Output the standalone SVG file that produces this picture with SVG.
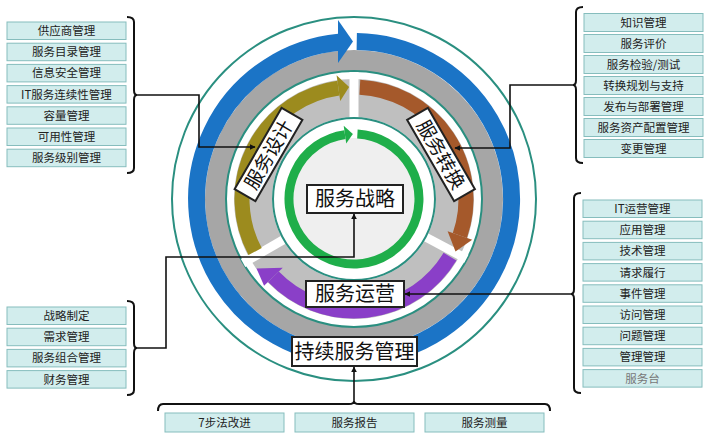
<svg xmlns="http://www.w3.org/2000/svg" width="714" height="441" viewBox="0 0 714 441">
<defs>
<style>
.bx{fill:#d2eded;stroke:#86bdbd;stroke-width:1}
.bt{font-family:"Noto Sans CJK SC","Noto Sans",sans-serif;font-size:11.5px;fill:#222;text-anchor:middle}
.lb{fill:#fff;stroke:#222;stroke-width:2}
.lt{font-family:"Noto Sans CJK SC","Noto Sans",sans-serif;font-size:20px;fill:#111;text-anchor:middle}
.ring{fill:none;stroke:#2a8f80;stroke-width:2}
.br{fill:none;stroke:#111;stroke-width:2}
.cn{fill:none;stroke:#111;stroke-width:1.6;marker-end:url(#ah)}
</style>
<marker id="ah" viewBox="0 0 10 10" refX="9" refY="5" markerWidth="6" markerHeight="6" orient="auto" markerUnits="userSpaceOnUse">
<path d="M0,0 L10,5 L0,10 z" fill="#111"/>
</marker>
</defs>
<rect width="714" height="441" fill="#fff"/>

<g id="wheel">
<circle cx="354" cy="199" r="182" class="ring"/>
<circle cx="354" cy="199" r="138.5" fill="none" stroke="#a6a6a6" stroke-width="21"/>
<path d="M356.75,41.52 A157.5,157.5 0 1 1 338.90,42.23" fill="none" stroke="#1b74c6" stroke-width="17"/>
<polygon points="338,20 353,41.5 338,63" fill="#1b74c6"/>
<circle cx="354" cy="199" r="128" class="ring"/>
<circle cx="354" cy="199" r="101" fill="none" stroke="#bfbfbf" stroke-width="38"/>
<g stroke="#fff" stroke-width="9">
<line x1="354" y1="121" x2="354" y2="72"/>
<line x1="422.9" y1="235.6" x2="466.4" y2="258.7"/>
<line x1="286.45" y1="238" x2="243.1" y2="263"/>
</g>
<path d="M255.11,251.58 A112,112 0 0 1 338.41,88.09" fill="none" stroke="#9c8b1e" stroke-width="15"/>
<polygon points="340.22,100.96 336.60,75.22 349.11,87.11" fill="#9c8b1e"/>
<path d="M359.86,87.15 A112,112 0 0 1 459.90,235.46" fill="none" stroke="#a5592b" stroke-width="15"/>
<polygon points="447.61,231.23 472.19,239.70 455.5,251.5" fill="#a5592b"/>
<path d="M450.00,256.68 A112,112 0 0 1 273.43,276.80" fill="none" stroke="#8a3fc8" stroke-width="15"/>
<polygon points="282.79,267.77 264.08,285.83 256.5,268.5" fill="#8a3fc8"/>
<circle cx="354" cy="199" r="81" class="ring"/>
<circle cx="354" cy="199" r="61" fill="#efefef"/>
<path d="M357.40,134.09 A65,65 0 1 1 344.95,134.63" fill="none" stroke="#1fae4a" stroke-width="9"/>
<polygon points="346.21,143.54 343.70,125.72 352.87,134.01" fill="#1fae4a"/>
</g>

<g id="connectors">
<path class="br" d="M127,17 Q134,17 134,22 L134,90 Q134,95 137,95 Q134,95 134,100 L134,168 Q134,173 127,173"/>
<path class="cn" d="M137,95 L199,95 L199,147 L255,147"/>
<path class="br" d="M583,7 Q576,7 576,12 L576,80 Q576,85 573,85 Q576,85 576,90 L576,158 Q576,163 583,163"/>
<path class="cn" d="M573,85 L510,85 L510,148 L455,148"/>
<path class="br" d="M581,193 Q574,193 574,198 L574,289 Q574,294 571,294 Q574,294 574,299 L574,388 Q574,393 581,393"/>
<path class="cn" d="M571,294 L405,294"/>
<path class="br" d="M127,301 Q134,301 134,306 L134,343 Q134,348 137,348 Q134,348 134,353 L134,390 Q134,395 127,395"/>
<path class="cn" d="M137,348 L166,348 L166,257 L354,257 L354,214"/>
<path class="br" d="M158,411 Q158,404 163,404 L349,404 Q354,404 354,401 Q354,404 359,404 L545,404 Q550,404 550,411"/>
<path class="cn" d="M354,401 L354,367"/>
</g>

<g id="n-strategy"><rect class="lb" x="307" y="185" width="96" height="28"/><text class="lt" x="355" y="206">服务战略</text></g>
<g id="n-operation"><rect class="lb" x="306" y="281" width="98" height="26"/><text class="lt" x="355" y="301">服务运营</text></g>
<g id="n-csi"><rect class="lb" x="292" y="337" width="125" height="29"/><text class="lt" x="354.5" y="359">持续服务管理</text></g>
<g id="n-design" transform="translate(268.5,154.5) rotate(-60)"><rect class="lb" x="-47" y="-12" width="94" height="24"/><text class="lt" x="0" y="7" style="font-size:19px">服务设计</text></g>
<g id="n-transition" transform="translate(441,154.5) rotate(60)"><rect class="lb" x="-47" y="-12" width="94" height="24"/><text class="lt" x="0" y="7" style="font-size:19px">服务转换</text></g>

<g id="list-design">
<g id="d1"><rect class="bx" x="7" y="22" width="119" height="17.5"/><text class="bt" x="66.5" y="35">供应商管理</text></g>
<g id="d2"><rect class="bx" x="7" y="43.2" width="119" height="17.5"/><text class="bt" x="66.5" y="56.2">服务目录管理</text></g>
<g id="d3"><rect class="bx" x="7" y="64.4" width="119" height="17.5"/><text class="bt" x="66.5" y="77.4">信息安全管理</text></g>
<g id="d4"><rect class="bx" x="7" y="85.6" width="119" height="17.5"/><text class="bt" x="66.5" y="98.6">IT服务连续性管理</text></g>
<g id="d5"><rect class="bx" x="7" y="106.8" width="119" height="17.5"/><text class="bt" x="66.5" y="119.8">容量管理</text></g>
<g id="d6"><rect class="bx" x="7" y="128" width="119" height="17.5"/><text class="bt" x="66.5" y="141">可用性管理</text></g>
<g id="d7"><rect class="bx" x="7" y="149.2" width="119" height="17.5"/><text class="bt" x="66.5" y="162.2">服务级别管理</text></g>
</g>

<g id="list-transition">
<g id="t1"><rect class="bx" x="584" y="13.5" width="119" height="18"/><text class="bt" x="643.5" y="26.8">知识管理</text></g>
<g id="t2"><rect class="bx" x="584" y="34.5" width="119" height="18"/><text class="bt" x="643.5" y="47.8">服务评价</text></g>
<g id="t3"><rect class="bx" x="584" y="55.5" width="119" height="18"/><text class="bt" x="643.5" y="68.8">服务检验/测试</text></g>
<g id="t4"><rect class="bx" x="584" y="76.5" width="119" height="18"/><text class="bt" x="643.5" y="89.8">转换规划与支持</text></g>
<g id="t5"><rect class="bx" x="584" y="97.5" width="119" height="18"/><text class="bt" x="643.5" y="110.8">发布与部署管理</text></g>
<g id="t6"><rect class="bx" x="584" y="118.5" width="119" height="18"/><text class="bt" x="643.5" y="131.8">服务资产配置管理</text></g>
<g id="t7"><rect class="bx" x="584" y="139.5" width="119" height="18"/><text class="bt" x="643.5" y="152.8">变更管理</text></g>
</g>

<g id="list-operation">
<g id="o1"><rect class="bx" x="583" y="200" width="119" height="17.5"/><text class="bt" x="642.5" y="213">IT运营管理</text></g>
<g id="o2"><rect class="bx" x="583" y="221.2" width="119" height="17.5"/><text class="bt" x="642.5" y="234.2">应用管理</text></g>
<g id="o3"><rect class="bx" x="583" y="242.4" width="119" height="17.5"/><text class="bt" x="642.5" y="255.4">技术管理</text></g>
<g id="o4"><rect class="bx" x="583" y="263.6" width="119" height="17.5"/><text class="bt" x="642.5" y="276.6">请求履行</text></g>
<g id="o5"><rect class="bx" x="583" y="284.8" width="119" height="17.5"/><text class="bt" x="642.5" y="297.8">事件管理</text></g>
<g id="o6"><rect class="bx" x="583" y="306" width="119" height="17.5"/><text class="bt" x="642.5" y="319">访问管理</text></g>
<g id="o7"><rect class="bx" x="583" y="327.2" width="119" height="17.5"/><text class="bt" x="642.5" y="340.2">问题管理</text></g>
<g id="o8"><rect class="bx" x="583" y="348.4" width="119" height="17.5"/><text class="bt" x="642.5" y="361.4">管理管理</text></g>
<g id="o9"><rect class="bx" x="583" y="369.6" width="119" height="17.5"/><text class="bt" x="642.5" y="382.6" style="fill:#777">服务台</text></g>
</g>

<g id="list-strategy">
<g id="s1"><rect class="bx" x="7" y="307" width="119" height="17.5"/><text class="bt" x="66.5" y="320">战略制定</text></g>
<g id="s2"><rect class="bx" x="7" y="328.2" width="119" height="17.5"/><text class="bt" x="66.5" y="341.2">需求管理</text></g>
<g id="s3"><rect class="bx" x="7" y="349.4" width="119" height="17.5"/><text class="bt" x="66.5" y="362.4">服务组合管理</text></g>
<g id="s4"><rect class="bx" x="7" y="370.6" width="119" height="17.5"/><text class="bt" x="66.5" y="383.6">财务管理</text></g>
</g>

<g id="list-csi">
<g id="c1"><rect class="bx" x="165" y="413" width="119" height="19"/><text class="bt" x="224.5" y="426.8">7步法改进</text></g>
<g id="c2"><rect class="bx" x="295" y="413" width="119" height="19"/><text class="bt" x="354.5" y="426.8">服务报告</text></g>
<g id="c3"><rect class="bx" x="425" y="413" width="119" height="19"/><text class="bt" x="484.5" y="426.8">服务测量</text></g>
</g>
</svg>
